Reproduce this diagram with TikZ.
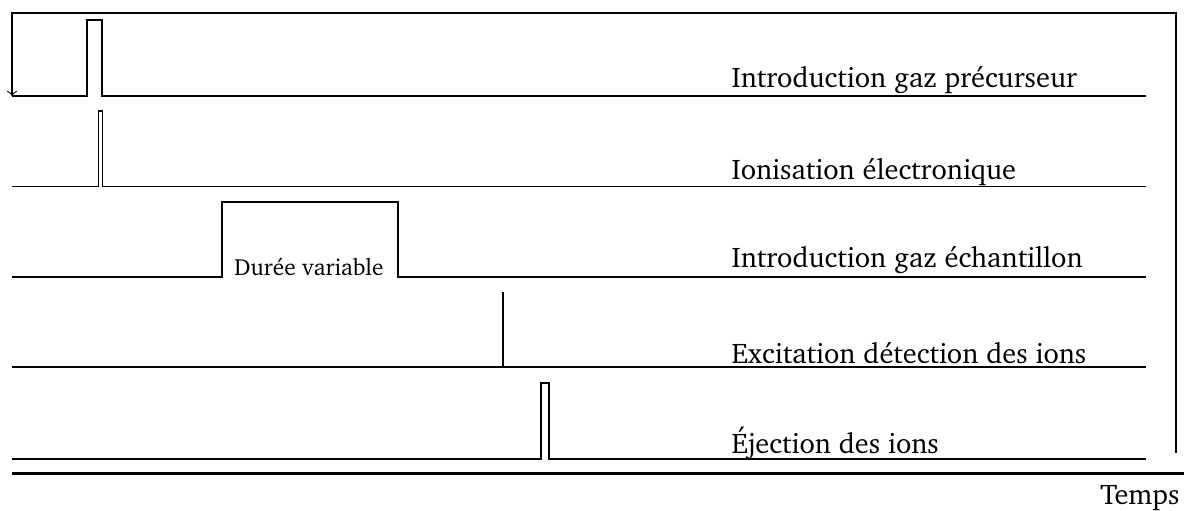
\documentclass[tikz,border=0pt]{standalone}
\usepackage[T1]{fontenc}
\usepackage{charter}
\usepackage{tikz}
\usetikzlibrary{arrows}
\tikzset{
   signal/.style={draw=black, line width=0.4pt},
   sigtext/.style={anchor=base west, inner sep=0pt, font=\fontsize{10.1}{12}\selectfont},
   petittext/.style={anchor=base, inner sep=0pt, font=\fontsize{8.3}{10}\selectfont}
}
\tikzstyle{retour} = [line width=0.4pt,->,>=to]
\tikzstyle{axe} = [line width=0.8pt]

\begin{document}
\begin{tikzpicture}[x=1.25mm,y=1.25mm]
\useasboundingbox (0,0) rectangle (118.4,51);

%%% HELP LINES - uncomment to design/extend
% \draw[step=10,gray,very thin] (0,0) grid (118,51);

%% Loop arrow round the cycle
\coordinate (debut) at (117.6,5.7);
\coordinate (fin) at (1.2,41.4);
\draw[retour] (debut) -- (117.6,49.7) -- (1.2,49.7) -- (fin);

% PRECURSEUR
\draw[signal] (1.2,41.4) -- (8.7,41.4) -- (8.7,49.0) -- (10.2,49.0) -- (10.2,41.4) -- (114.6,41.4);
\node[sigtext] (precurseur) at (73.1,42.2) {Introduction gaz précurseur};

% IONISATION
\draw[signal] (1.2,32.35) -- (9.85,32.35) -- (9.85,39.9) -- (10.25,39.9) -- (10.25,32.35) -- (114.6,32.35);
\node[sigtext] (ionisation) at (73.1,33.1) {Ionisation électronique};

% ECHANTILLON
\draw[signal] (1.2,23.3) -- (22.2,23.3) -- (22.2,30.8) -- (39.8,30.8) -- (39.8,23.3) -- (114.6,23.3);
\node[petittext] (duree) at (30.9,23.5) {Durée variable};
\node[sigtext] (echantillon) at (73.1,24.2) {Introduction gaz échantillon};

% EXCITATION
\draw[signal] (1.2,14.3) -- (114.6,14.3);
\draw[axe] (50.3,14.3) -- (50.3,21.8);
\node[sigtext] (excitation) at (73.1,14.6) {Excitation détection des ions};

% EJECTION
\draw[signal] (1.2,5.1) -- (54.1,5.1) -- (54.1,12.7) -- (54.9,12.7) -- (54.9,5.1) -- (114.6,5.1);
\node[sigtext] (ejection) at (73.1,5.7) {Éjection des ions};

% TEMPS
\draw[axe] (1.2,3.65) -- (118.4,3.65);
\node[sigtext, anchor=base east] (temps) at (118.0,0.5) {Temps};
\end{tikzpicture}
\end{document}
